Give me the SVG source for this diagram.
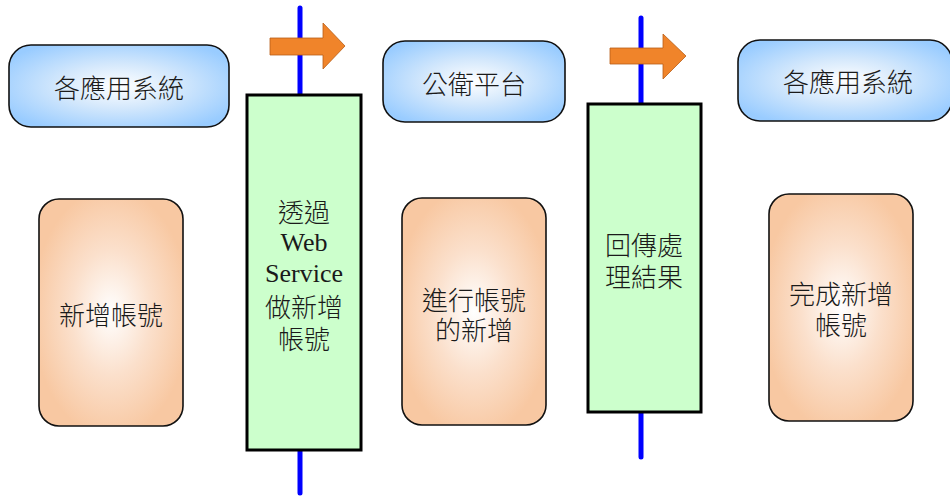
<svg xmlns="http://www.w3.org/2000/svg" width="950" height="497" viewBox="0 0 950 497">
<defs>
<radialGradient id="gBlue" cx="50%" cy="50%" r="60%">
<stop offset="0" stop-color="#ffffff"/>
<stop offset="0.45" stop-color="#d4e8fc"/>
<stop offset="1" stop-color="#99ccff"/>
</radialGradient>
<radialGradient id="gOrange" cx="50%" cy="50%" r="55%">
<stop offset="0" stop-color="#ffffff"/>
<stop offset="0.5" stop-color="#fbe0cc"/>
<stop offset="1" stop-color="#f8c8a2"/>
</radialGradient>
<style>
.blue{fill:url(#gBlue);stroke:#111;stroke-width:1.6}
.orange{fill:url(#gOrange);stroke:#111;stroke-width:1.6}
.green{fill:#ccffcc;stroke:#000;stroke-width:3}
.vline{stroke:#0000ff;stroke-width:5;stroke-linecap:round;fill:none}
.arrow{fill:#f0842a;stroke:#b85e18;stroke-width:0.8}
.t{font-family:"Noto Sans CJK TC","Liberation Sans",sans-serif;font-size:26px;font-weight:300;fill:#1a1a1a;text-anchor:middle;dominant-baseline:central}
.s{font-family:"Liberation Serif","Noto Sans CJK TC",serif;font-weight:400}
</style>
</defs>
<rect width="950" height="497" fill="#ffffff"/>
<g id="connectors">
<line class="vline" x1="300" y1="8" x2="300" y2="493"/>
<line class="vline" x1="641" y1="18" x2="641" y2="457"/>
<polygon class="arrow" points="270,38 323,38 323,23 345,46 323,69 323,55 270,55"/>
<polygon class="arrow" points="610,48 663,48 663,34 686,56 663,79 663,64 610,64"/>
</g>
<g id="node-sys1">
<rect class="blue" x="9" y="45" width="220" height="82" rx="22"/>
<text class="t" x="119" y="86">各應用系統</text>
</g>
<g id="node-platform">
<rect class="blue" x="383" y="41" width="182" height="81" rx="22"/>
<text class="t" x="474" y="82">公衛平台</text>
</g>
<g id="node-sys2">
<rect class="blue" x="738" y="40" width="214" height="81" rx="22"/>
<text class="t" x="848" y="80">各應用系統</text>
</g>
<g id="node-webservice">
<rect class="green" x="247" y="95" width="114" height="355"/>
<text class="t" x="304" y="210">透過<tspan class="s" x="304" dy="32">Web</tspan><tspan class="s" x="304" dy="31">Service</tspan><tspan x="304" dy="32">做新增</tspan><tspan x="304" dy="32">帳號</tspan></text>
</g>
<g id="node-return">
<rect class="green" x="588" y="104" width="113" height="308"/>
<text class="t" x="644" y="243">回傳處<tspan x="644" dy="32">理結果</tspan></text>
</g>
<g id="node-add">
<rect class="orange" x="39" y="199" width="144" height="227" rx="20"/>
<text class="t" x="111" y="313">新增帳號</text>
</g>
<g id="node-process">
<rect class="orange" x="402" y="198" width="144" height="227" rx="20"/>
<text class="t" x="474" y="298">進行帳號<tspan x="474" dy="30">的新增</tspan></text>
</g>
<g id="node-done">
<rect class="orange" x="769" y="194" width="144" height="227" rx="20"/>
<text class="t" x="841" y="292">完成新增<tspan x="841" dy="31">帳號</tspan></text>
</g>
</svg>
